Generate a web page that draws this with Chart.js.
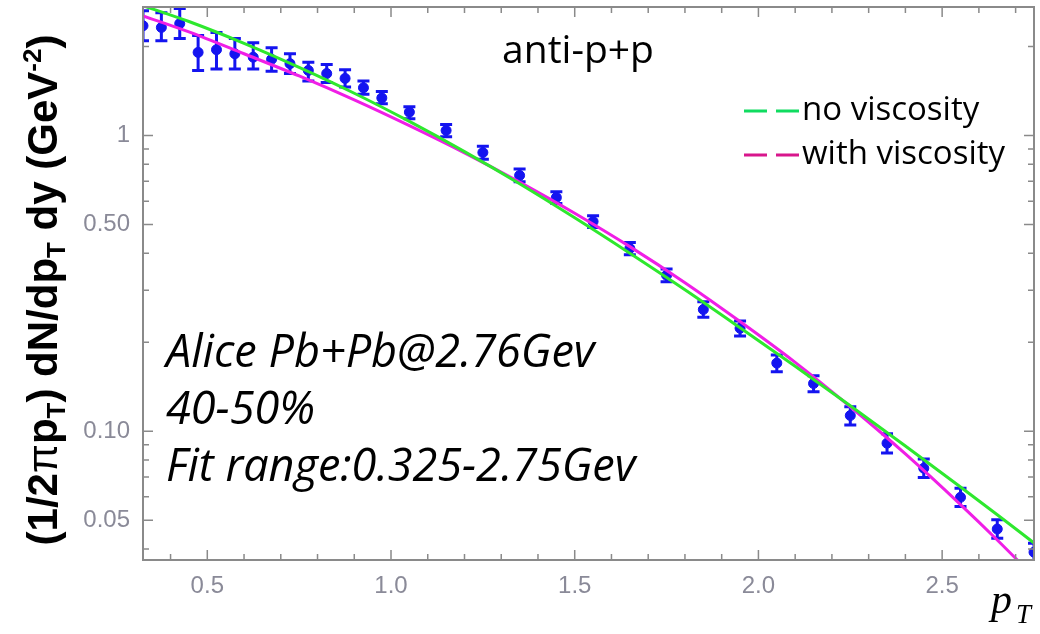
<!DOCTYPE html>
<html>
<head>
<meta charset="utf-8">
<script src="https://cdn.jsdelivr.net/npm/chart.js@4.4.1/dist/chart.umd.min.js"></script>
<style>
  html, body { margin: 0; padding: 0; background: #fff; }
  #wrap { position: relative; width: 1040px; height: 634px; }
</style>
</head>
<body>
<div id="wrap"><canvas id="spectrum" width="1040" height="634"></canvas></div>
<script>
// measured anti-proton spectrum (pT in GeV)
const ptData = [0.325, 0.375, 0.425, 0.475, 0.525, 0.575, 0.625, 0.675, 0.725, 0.775,
  0.825, 0.875, 0.925, 0.975, 1.05, 1.15, 1.25, 1.35, 1.45, 1.55, 1.65, 1.75,
  1.85, 1.95, 2.05, 2.15, 2.25, 2.35, 2.45, 2.55, 2.65, 2.75];
const yieldData = [2.35, 2.32, 2.39, 1.91, 1.95, 1.89, 1.84, 1.81, 1.75, 1.66,
  1.62, 1.56, 1.45, 1.34, 1.20, 1.04, 0.876, 0.733, 0.617, 0.512, 0.415, 0.337,
  0.258, 0.223, 0.170, 0.145, 0.113, 0.0911, 0.0750, 0.0598, 0.0467, 0.0390];
const yieldHigh = [2.64, 2.60, 2.69, 2.18, 2.23, 2.13, 2.06, 1.98, 1.89, 1.77,
  1.74, 1.67, 1.53, 1.41, 1.25, 1.09, 0.92, 0.77, 0.645, 0.535, 0.435, 0.354,
  0.274, 0.236, 0.181, 0.154, 0.121, 0.098, 0.0805, 0.0642, 0.0502, 0.0418];
const yieldLow = [2.09, 2.09, 2.13, 1.66, 1.68, 1.68, 1.68, 1.65, 1.62, 1.53,
  1.51, 1.46, 1.38, 1.28, 1.14, 0.99, 0.832, 0.698, 0.589, 0.489, 0.395, 0.320,
  0.243, 0.210, 0.159, 0.136, 0.105, 0.0845, 0.0698, 0.0557, 0.0435, 0.0363];

// hydro fits
const curveX = [0.325, 0.45, 0.6, 0.75, 0.9, 1.05, 1.2, 1.35, 1.5, 1.65, 1.8,
  1.95, 2.1, 2.25, 2.4, 2.55, 2.65, 2.75];
const noViscosity = [2.75, 2.43, 2.05, 1.70, 1.39, 1.116, 0.882, 0.687, 0.527,
  0.400, 0.301, 0.224, 0.166, 0.122, 0.0892, 0.0648, 0.0522, 0.0419];
const withViscosity = [2.54, 2.24, 1.89, 1.59, 1.32, 1.08, 0.874, 0.696, 0.546,
  0.421, 0.318, 0.235, 0.171, 0.121, 0.0838, 0.0565, 0.0429, 0.0322];

const xMajorTicks = [0.5, 1.0, 1.5, 2.0, 2.5];
const xMinorTicks = [0.4, 0.6, 0.7, 0.8, 0.9, 1.1, 1.2, 1.3, 1.4, 1.6, 1.7, 1.8, 1.9,
  2.1, 2.2, 2.3, 2.4, 2.6, 2.7];
const yMajorTicks = [1, 0.5, 0.1, 0.05];
const yMajorLabels = ["1", "0.50", "0.10", "0.05"];
const yMinorTicks = [2, 0.9, 0.8, 0.7, 0.6, 0.4, 0.3, 0.2, 0.09, 0.08, 0.07, 0.06, 0.04];

const seriesNames = ["no viscosity", "with viscosity"];
const notes = ["Alice Pb+Pb@2.76Gev", "40-50%", "Fit range:0.325-2.75Gev"];

const GREEN = "#2ee82e";
const MAGENTA = "#f01ee6";
const BLUE = "#1414f0";
const FRAME = "#8a8a8a";

const errorBars = {
  id: "errorBars",
  beforeDatasetsDraw(chart) {
    const { ctx, chartArea: a, scales: { x, y } } = chart;
    ctx.save();
    ctx.beginPath();
    ctx.rect(a.left, a.top, a.right - a.left, a.bottom - a.top);
    ctx.clip();
    ctx.strokeStyle = BLUE;
    ctx.lineWidth = 3;
    ptData.forEach((pt, i) => {
      const px = x.getPixelForValue(pt);
      const hi = y.getPixelForValue(yieldHigh[i]);
      const lo = y.getPixelForValue(yieldLow[i]);
      ctx.beginPath();
      ctx.moveTo(px, hi); ctx.lineTo(px, lo);
      ctx.moveTo(px - 6, hi); ctx.lineTo(px + 6, hi);
      ctx.moveTo(px - 6, lo); ctx.lineTo(px + 6, lo);
      ctx.stroke();
    });
    ctx.restore();
  }
};

const frameAndText = {
  id: "frameAndText",
  afterDraw(chart) {
    const { ctx, chartArea: a, scales: { x, y } } = chart;
    ctx.save();
    // frame with inward ticks on all four sides
    ctx.strokeStyle = FRAME;
    ctx.lineWidth = 2;
    ctx.strokeRect(a.left, a.top, a.right - a.left, a.bottom - a.top);
    ctx.lineWidth = 1.5;
    const xt = (v, len) => {
      const p = x.getPixelForValue(v);
      ctx.moveTo(p, a.bottom); ctx.lineTo(p, a.bottom - len);
      ctx.moveTo(p, a.top); ctx.lineTo(p, a.top + len);
    };
    const yt = (v, len) => {
      const p = y.getPixelForValue(v);
      ctx.moveTo(a.left, p); ctx.lineTo(a.left + len, p);
      ctx.moveTo(a.right, p); ctx.lineTo(a.right - len, p);
    };
    ctx.beginPath();
    xMajorTicks.forEach(v => xt(v, 10));
    xMinorTicks.forEach(v => xt(v, 6));
    yMajorTicks.forEach(v => yt(v, 10));
    yMinorTicks.forEach(v => yt(v, 6));
    ctx.stroke();

    ctx.fillStyle = "#000";
    // title
    ctx.font = "39px 'Open Sans'";
    ctx.textAlign = "center";
    ctx.textBaseline = "alphabetic";
    ctx.fillText("anti-p+p", 578, 63);

    // legend
    const colors = ["#10dc60", "#d8168c"];
    ctx.font = "33px 'Open Sans'";
    ctx.textAlign = "left";
    ctx.textBaseline = "middle";
    seriesNames.forEach((name, i) => {
      const ly = 111 + i * 44;
      ctx.strokeStyle = colors[i];
      ctx.lineWidth = 3;
      ctx.setLineDash([23, 9]);
      ctx.beginPath();
      ctx.moveTo(744, ly); ctx.lineTo(799, ly);
      ctx.stroke();
      ctx.setLineDash([]);
      ctx.fillText(name, 802, ly);
    });

    // notes
    ctx.font = "italic 45px 'Open Sans'";
    ctx.textBaseline = "alphabetic";
    notes.forEach((t, i) => ctx.fillText(t, 166, 367 + i * 57));

    // p_T axis label
    ctx.font = "italic 42px 'Liberation Serif'";
    ctx.fillText("p", 991, 613);
    ctx.font = "italic 27px 'Liberation Serif'";
    ctx.fillText("T", 1016, 623);

    // rotated y title with sub/superscripts
    const big = "bold 42px 'Liberation Sans'";
    const small = "bold 26px 'Liberation Sans'";
    const parts = [
      { t: "(1/2", f: big, d: 0 },
      { t: "π", f: "42px 'Liberation Sans'", d: 0 },
      { t: "p", f: big, d: 0 },
      { t: "T", f: small, d: 8 },
      { t: ") dN/dp", f: big, d: 0 },
      { t: "T", f: small, d: 8 },
      { t: " dy (GeV", f: big, d: 0 },
      { t: "-2", f: small, d: -16 },
      { t: ")", f: big, d: 0 }
    ];
    let total = 0;
    parts.forEach(p => { ctx.font = p.f; p.w = ctx.measureText(p.t).width; total += p.w; });
    ctx.translate(57, 290);
    ctx.rotate(-Math.PI / 2);
    ctx.textBaseline = "alphabetic";
    let cx = -total / 2;
    parts.forEach(p => {
      ctx.font = p.f;
      ctx.fillText(p.t, cx, p.d);
      cx += p.w;
    });
    ctx.restore();
  }
};

new Chart(document.getElementById("spectrum"), {
  type: "scatter",
  data: {
    datasets: [
      {
        label: seriesNames[0],
        data: curveX.map((v, i) => ({ x: v, y: noViscosity[i] })),
        showLine: true,
        borderColor: GREEN,
        borderWidth: 3,
        pointRadius: 0,
        cubicInterpolationMode: "monotone",
        clip: 0,
        order: 1
      },
      {
        label: seriesNames[1],
        data: curveX.map((v, i) => ({ x: v, y: withViscosity[i] })),
        showLine: true,
        borderColor: MAGENTA,
        borderWidth: 3,
        pointRadius: 0,
        cubicInterpolationMode: "monotone",
        clip: 0,
        order: 2
      },
      {
        label: "ALICE",
        data: ptData.map((v, i) => ({ x: v, y: yieldData[i] })),
        backgroundColor: BLUE,
        borderColor: BLUE,
        pointRadius: 5,
        clip: 0,
        order: 3
      }
    ]
  },
  options: {
    responsive: false,
    animation: false,
    devicePixelRatio: 1,
    layout: { padding: { left: 0, right: 4, top: 7, bottom: 0 } },
    plugins: { legend: { display: false }, tooltip: { enabled: false } },
    scales: {
      x: {
        type: "linear",
        min: 0.325,
        max: 2.75,
        grid: { display: false, drawTicks: false },
        border: { display: false },
        afterBuildTicks: s => { s.ticks = xMajorTicks.map(v => ({ value: v })); },
        afterFit: s => { s.height = 74; s.paddingLeft = 0; s.paddingRight = 0; },
        ticks: {
          autoSkip: false,
          maxRotation: 0,
          padding: 12,
          color: "#8a8a98",
          font: { family: "'Liberation Sans'", size: 24 },
          callback: v => v.toFixed(1)
        }
      },
      y: {
        type: "logarithmic",
        min: 0.0367,
        max: 2.72,
        grid: { display: false, drawTicks: false },
        border: { display: false },
        afterBuildTicks: s => { s.ticks = yMajorTicks.map(v => ({ value: v })); },
        afterFit: s => { s.width = 143; s.paddingTop = 0; s.paddingBottom = 0; },
        ticks: {
          autoSkip: false,
          padding: 13,
          color: "#8a8a98",
          font: { family: "'Liberation Sans'", size: 24 },
          callback: v => yMajorLabels[yMajorTicks.indexOf(v)]
        }
      }
    }
  },
  plugins: [errorBars, frameAndText]
});
</script>
</body>
</html>
